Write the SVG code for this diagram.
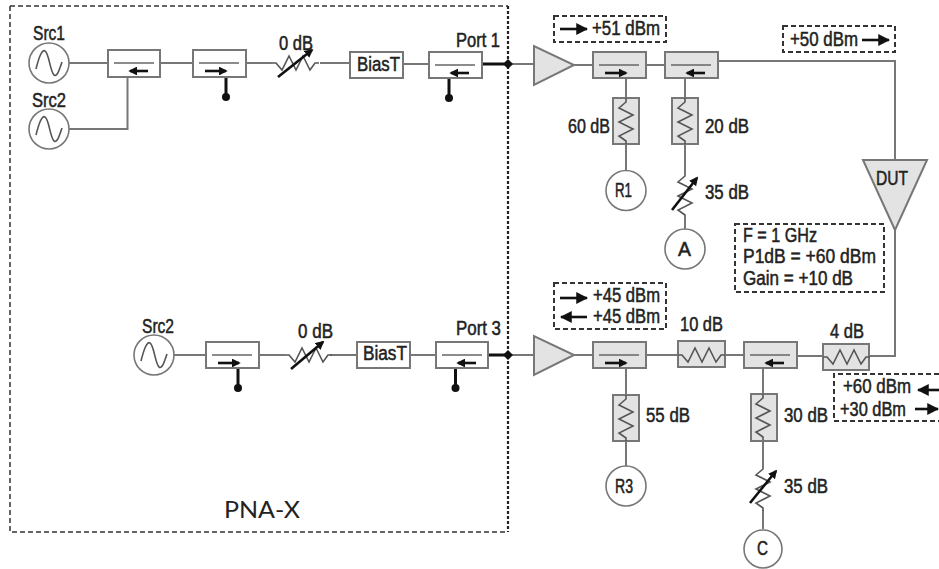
<svg xmlns="http://www.w3.org/2000/svg" width="939" height="569" viewBox="0 0 939 569">
<style>
text{font-family:"Liberation Sans",Arial,sans-serif;font-size:19.5px;fill:#222;stroke:#222;stroke-width:.5}
.w{fill:#fff;stroke:#777;stroke-width:2}
.g{fill:#e3e3e3;stroke:#777;stroke-width:2}
.l{fill:none;stroke:#777;stroke-width:2}
.z{fill:none;stroke:#555;stroke-width:1.6}
.t{fill:none;stroke:#111;stroke-width:3}
.d{fill:none;stroke:#333;stroke-width:2;stroke-dasharray:5 3}
.f{fill:none;stroke:#333;stroke-width:1.5;stroke-dasharray:5 3}
.a{stroke:#111;stroke-width:2.6;fill:none}
.s{fill:#fff;stroke:#777;stroke-width:1.6}
text.p{font-family:Lato,"Open Sans",sans-serif;font-size:23px;stroke:none;fill:#222}
</style>
<defs>
<marker id="h" viewBox="0 0 10 10" refX="8" refY="5" markerWidth="3.4" markerHeight="3.4" orient="auto"><path d="M0 0L10 5L0 10z" fill="#111"/></marker>
<marker id="H" viewBox="0 0 10 10" refX="9" refY="5" markerWidth="4.6" markerHeight="4.6" orient="auto"><path d="M0 0L10 5L0 10z" fill="#111"/></marker>
<g id="sine"><path class="z" d="M-13 6C-10 -6 -7 -14 -4 -12C0 -10 1 8 5 12C8 14 10 8 13 -1"/></g>
<g id="cr"><path d="M6 13H46" stroke="#666" stroke-width="1.5"/><path class="a" d="M12 21H33" marker-end="url(#h)"/></g>
<g id="cl"><path d="M6 13H46" stroke="#666" stroke-width="1.5"/><path class="a" d="M40 21H22" marker-end="url(#h)"/></g>
<path id="zh" class="z" d="M0 0L4 0L10 7L17 -7L24 7L31 -7L38 7L43 0L47 0"/>
<path id="zv" class="z" d="M0 0L0 4L-7 10L7 17L-7 24L7 31L-7 38L0 43L0 46"/>
</defs>

<g id="frame"><path class="f" d="M10 6H508M10 6V532H508" /><path d="M508 6V532" fill="none" stroke="#222" stroke-width="2.2" stroke-dasharray="3 2"/><text class="p" x="224" y="518" textLength="76" lengthAdjust="spacingAndGlyphs">PNA-X</text></g>

<g id="connectors">
<path class="l" d="M69 63H108M160 63H193M246 63H272M320 63H350M403 64H429"/>
<path class="l" d="M69 129H127.500V77"/>
<path class="t" d="M482 64H508M226 77V97M449 78V97"/>
<path class="l" d="M508 64H534M574 65H593M646 65H665"/>
<path class="l" d="M718 61H895V160M895 230V356H869"/>
<path class="l" d="M626 78V98M626 144V171M685 78V98M685 144V172M685 218V229"/>
<path class="l" d="M174 355H206M259 355H285M330 355H357M410 355H436"/>
<path class="t" d="M488 355H508M238 368V388M455.500 368V388"/>
<path class="l" d="M508 355H534M574 355H593M646 355H678M725 355H744M797 356H823"/>
<path class="l" d="M626 368V395M626 441V466M763 368V394M763 441V465M763 510V529"/>
</g>

<g id="src1"><circle class="s" cx="49" cy="63" r="20"/><use href="#sine" x="49" y="63"/><text x="33" y="40" textLength="32" lengthAdjust="spacingAndGlyphs">Src1</text></g>
<g id="src2a"><circle class="s" cx="49" cy="129" r="20"/><use href="#sine" x="49" y="129"/><text x="32" y="107" textLength="34" lengthAdjust="spacingAndGlyphs">Src2</text></g>
<g id="coupler1"><rect class="w" x="108" y="50" width="52" height="27"/><use href="#cl" x="108" y="50"/></g>
<g id="coupler2"><rect class="w" x="193" y="50" width="53" height="27"/><use href="#cr" x="193" y="50"/><circle cx="226" cy="97" r="4" fill="#111"/></g>
<g id="att1"><use href="#zh" x="272" y="63"/><path class="a" d="M278 77L312 50" marker-end="url(#h)"/><text x="279" y="50" textLength="34" lengthAdjust="spacingAndGlyphs">0 dB</text></g>
<g id="biast1"><rect class="w" x="350" y="52" width="53" height="26"/><text x="357" y="71" textLength="43" lengthAdjust="spacingAndGlyphs">BiasT</text></g>
<g id="port1"><rect class="w" x="429" y="52" width="53" height="26"/><use href="#cl" x="429" y="52"/><circle cx="449" cy="98" r="4" fill="#111"/><text x="456" y="47" textLength="44" lengthAdjust="spacingAndGlyphs">Port 1</text></g>
<g id="j1"><path d="M508 59L513 64L508 69L503 64z" fill="#111"/></g>
<g id="amp1"><path class="g" d="M534 46V85L574 65z"/></g>
<g id="coupler3"><rect class="g" x="593" y="52" width="53" height="26"/><use href="#cr" x="593" y="52"/></g>
<g id="pad60"><rect class="g" x="613" y="98" width="26" height="46"/><use href="#zv" x="626" y="98"/><text x="568" y="133" textLength="42" lengthAdjust="spacingAndGlyphs">60 dB</text></g>
<g id="r1"><circle class="s" cx="626" cy="190.500" r="20"/><text x="615" y="197" textLength="17" lengthAdjust="spacingAndGlyphs">R1</text></g>
<g id="coupler4"><rect class="g" x="665" y="52" width="53" height="26"/><use href="#cl" x="665" y="52"/></g>
<g id="pad20"><rect class="g" x="672" y="98" width="26" height="46"/><use href="#zv" x="685" y="98"/><text x="705" y="133" textLength="44" lengthAdjust="spacingAndGlyphs">20 dB</text></g>
<g id="att2"><use href="#zv" x="685" y="172"/><path class="a" d="M672 210L697 178" marker-end="url(#h)"/><text x="705" y="199" textLength="44" lengthAdjust="spacingAndGlyphs">35 dB</text></g>
<g id="a"><circle class="s" cx="685" cy="249" r="20"/><text x="678" y="256" textLength="13" lengthAdjust="spacingAndGlyphs">A</text></g>
<g id="dut"><path class="g" d="M863 160H927L895 230z"/><text x="876" y="185" textLength="32" lengthAdjust="spacingAndGlyphs">DUT</text></g>
<g id="note51"><rect class="d" x="554" y="16" width="112" height="26"/><path class="a" d="M560 29H587" marker-end="url(#H)"/><text x="592" y="35" textLength="68" lengthAdjust="spacingAndGlyphs">+51 dBm</text></g>
<g id="note50"><rect class="d" x="783" y="26" width="112" height="26"/><text x="790" y="46" textLength="68" lengthAdjust="spacingAndGlyphs">+50 dBm</text><path class="a" d="M862 40H889" marker-end="url(#H)"/></g>
<g id="noteF"><rect class="d" x="735" y="224" width="149" height="68"/><text x="743" y="242" textLength="74" lengthAdjust="spacingAndGlyphs">F = 1 GHz</text><text x="743" y="263" textLength="133" lengthAdjust="spacingAndGlyphs">P1dB = +60 dBm</text><text x="743" y="285" textLength="110" lengthAdjust="spacingAndGlyphs">Gain = +10 dB</text></g>

<g id="src2b"><circle class="s" cx="154" cy="355" r="20"/><use href="#sine" x="154" y="355"/><text x="142" y="333" textLength="32" lengthAdjust="spacingAndGlyphs">Src2</text></g>
<g id="coupler5"><rect class="w" x="206" y="342" width="53" height="26"/><use href="#cr" x="206" y="342"/><circle cx="238" cy="388" r="4" fill="#111"/></g>
<g id="att3"><use href="#zh" x="285" y="355"/><path class="a" d="M291 369L323 342" marker-end="url(#h)"/><text x="298" y="338" textLength="35" lengthAdjust="spacingAndGlyphs">0 dB</text></g>
<g id="biast2"><rect class="w" x="357" y="342" width="53" height="26"/><text x="363" y="360" textLength="44" lengthAdjust="spacingAndGlyphs">BiasT</text></g>
<g id="port3"><rect class="w" x="436" y="342" width="52" height="26"/><use href="#cl" x="436" y="342"/><circle cx="455.500" cy="388" r="4" fill="#111"/><text x="456" y="335" textLength="45" lengthAdjust="spacingAndGlyphs">Port 3</text></g>
<g id="j3"><path d="M508 350L513 355L508 360L503 355z" fill="#111"/></g>
<g id="amp3"><path class="g" d="M534 336V375L574 355z"/></g>
<g id="coupler6"><rect class="g" x="593" y="342" width="53" height="26"/><use href="#cr" x="593" y="342"/></g>
<g id="pad55"><rect class="g" x="613" y="395" width="26" height="46"/><use href="#zv" x="626" y="395"/><text x="646" y="422" textLength="44" lengthAdjust="spacingAndGlyphs">55 dB</text></g>
<g id="r3"><circle class="s" cx="626" cy="486" r="20"/><text x="615" y="493" textLength="18" lengthAdjust="spacingAndGlyphs">R3</text></g>
<g id="pad10"><rect class="g" x="678" y="341" width="47" height="26"/><use href="#zh" x="678" y="355"/><text x="680" y="331" textLength="43" lengthAdjust="spacingAndGlyphs">10 dB</text></g>
<g id="coupler7"><rect class="g" x="744" y="342" width="53" height="26"/><use href="#cl" x="744" y="342"/></g>
<g id="pad30"><rect class="g" x="751" y="394" width="26" height="47"/><use href="#zv" x="763" y="394"/><text x="784" y="422" textLength="44" lengthAdjust="spacingAndGlyphs">30 dB</text></g>
<g id="att4"><use href="#zv" x="763" y="465"/><path class="a" d="M750 503L776 471" marker-end="url(#h)"/><text x="784" y="493" textLength="44" lengthAdjust="spacingAndGlyphs">35 dB</text></g>
<g id="c"><circle class="s" cx="763" cy="549" r="19"/><text x="757" y="555" textLength="11" lengthAdjust="spacingAndGlyphs">C</text></g>
<g id="pad4"><rect class="g" x="823" y="344" width="46" height="26"/><use href="#zh" x="823" y="357"/><text x="830" y="338" textLength="34" lengthAdjust="spacingAndGlyphs">4 dB</text></g>
<g id="note45"><rect class="d" x="554" y="283" width="112" height="46"/><path class="a" d="M560 298H587" marker-end="url(#H)"/><path class="a" d="M587 317H561" marker-end="url(#H)"/><text x="593" y="302" textLength="67" lengthAdjust="spacingAndGlyphs">+45 dBm</text><text x="593" y="323" textLength="67" lengthAdjust="spacingAndGlyphs">+45 dBm</text></g>
<g id="note60"><path class="d" d="M939 374H834V421H939"/><text x="843" y="393" textLength="68" lengthAdjust="spacingAndGlyphs">+60 dBm</text><text x="840" y="416" textLength="66" lengthAdjust="spacingAndGlyphs">+30 dBm</text><path class="a" d="M939 390H918" marker-end="url(#H)"/><path class="a" d="M915 409H938" marker-end="url(#H)"/></g>
</svg>
